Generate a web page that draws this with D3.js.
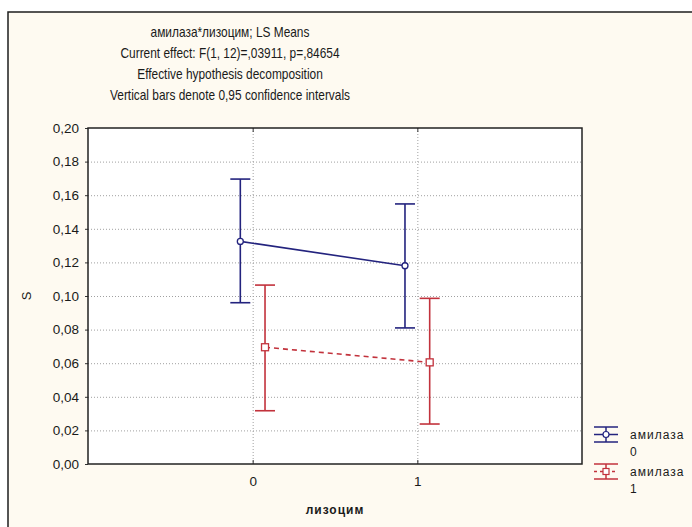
<!DOCTYPE html>
<html>
<head>
<meta charset="utf-8">
<script src="https://cdn.jsdelivr.net/npm/d3@7/dist/d3.min.js"></script>
<style>
  html, body { margin: 0; padding: 0; background: #ffffff; }
  svg { display: block; }
  text { font-family: "Liberation Sans", Arial, sans-serif; fill: #1a1a1a; }
</style>
</head>
<body>
<svg id="chart" width="692" height="527"></svg>
<script>
// LS means of S by лизоцим level, one series per амилаза level
const levels = [0, 1];
const seriesNames = ["амилаза", "амилаза"];
const seriesLevels = ["0", "1"];
const mean0 = [0.1325, 0.1180];
const lower0 = [0.0960, 0.0810];
const upper0 = [0.1696, 0.1548];
const mean1 = [0.0695, 0.0605];
const lower1 = [0.0317, 0.0238];
const upper1 = [0.1065, 0.0986];
const yTickValues = [0, 0.02, 0.04, 0.06, 0.08, 0.10, 0.12, 0.14, 0.16, 0.18, 0.20];
const titleLines = [
  "амилаза*лизоцим; LS Means",
  "Current effect: F(1, 12)=,03911, p=,84654",
  "Effective hypothesis decomposition",
  "Vertical bars denote 0,95 confidence intervals"
];

const svg = d3.select("#chart");
const W = 692, H = 527;
const plot = { left: 88, top: 128, right: 582, bottom: 464 };

// window panel
svg.append("rect")
  .attr("x", 8).attr("y", 12).attr("width", W + 20).attr("height", H + 20)
  .attr("fill", "#fefaf1").attr("stroke", "#1e1e1e").attr("stroke-width", 1.5);

const x = d3.scaleLinear().domain([-1, 2]).range([plot.left, plot.right]);
const y = d3.scaleLinear().domain([0, 0.20]).range([plot.bottom, plot.top]);

// plot background
svg.append("rect")
  .attr("x", plot.left).attr("y", plot.top)
  .attr("width", plot.right - plot.left).attr("height", plot.bottom - plot.top)
  .attr("fill", "#ffffff");

// grid
const grid = svg.append("g").attr("stroke", "#a0a0a0").attr("stroke-width", 1)
  .attr("stroke-dasharray", "1,2");
grid.selectAll("line.h").data(yTickValues.slice(1, -1)).join("line")
  .attr("x1", plot.left).attr("x2", plot.right)
  .attr("y1", d => y(d) + 0.5).attr("y2", d => y(d) + 0.5);
grid.selectAll("line.v").data(levels).join("line")
  .attr("x1", d => x(d) + 0.5).attr("x2", d => x(d) + 0.5)
  .attr("y1", plot.top).attr("y2", plot.bottom);

// titles (condensed face)
svg.append("g").selectAll("text").data(titleLines).join("text")
  .attr("transform", (d, i) => `translate(230,${37 + i * 21}) scale(0.85,1)`)
  .attr("text-anchor", "middle")
  .style("font-size", "14px")
  .text(d => d);

// y axis
const fmt = d => d3.format(".2f")(d).replace(".", ",");
const yAxis = svg.append("g").attr("transform", `translate(${plot.left},0)`)
  .call(d3.axisLeft(y).tickValues(yTickValues).tickSize(3).tickPadding(6).tickFormat(fmt));
yAxis.select(".domain").remove();
yAxis.selectAll("line").attr("stroke", "#333");
yAxis.selectAll("text").style("font-size", "13.5px").attr("fill", "#1a1a1a");

// x axis
const xAxis = svg.append("g").attr("transform", `translate(0,${plot.bottom})`)
  .call(d3.axisBottom(x).tickValues(levels).tickSize(-4).tickPadding(12).tickFormat(d3.format("d")));
xAxis.select(".domain").remove();
xAxis.selectAll("line").attr("stroke", "#333");
xAxis.selectAll("text").style("font-size", "13.5px").attr("fill", "#1a1a1a");

const xTop = svg.append("g").attr("transform", `translate(0,${plot.top})`)
  .call(d3.axisTop(x).tickValues(levels).tickSize(-4).tickFormat(""));
xTop.select(".domain").remove();
xTop.selectAll("line").attr("stroke", "#333");

// plot frame
svg.append("rect")
  .attr("x", plot.left).attr("y", plot.top)
  .attr("width", plot.right - plot.left).attr("height", plot.bottom - plot.top)
  .attr("fill", "none").attr("stroke", "#222").attr("stroke-width", 1.5);

// axis titles
svg.append("text")
  .attr("transform", `translate(31,${(plot.top + plot.bottom) / 2}) rotate(-90)`)
  .attr("text-anchor", "middle").style("font-size", "13px").text("S");
svg.append("text")
  .attr("x", (plot.left + plot.right) / 2).attr("y", 514)
  .attr("text-anchor", "middle").style("font-size", "12px").style("font-weight", "bold")
  .style("letter-spacing", "1px").text("лизоцим");

// series
const series = [
  { mean: mean0, lo: lower0, hi: upper0, color: "#23237e", shift: -0.075, dash: null, marker: "circle" },
  { mean: mean1, lo: lower1, hi: upper1, color: "#c2323c", shift: 0.075, dash: "5,4", marker: "square" }
];
const capHalf = 10;

series.forEach(s => {
  const pts = levels.map((lv, i) => ({ lv, m: s.mean[i], lo: s.lo[i], hi: s.hi[i] }));
  const g = svg.append("g");
  const line = d3.line().x(d => x(d.lv + s.shift)).y(d => y(d.m));
  g.append("path").datum(pts).attr("d", line)
    .attr("fill", "none").attr("stroke", s.color).attr("stroke-width", 1.6)
    .attr("stroke-dasharray", s.dash);
  const eb = g.selectAll("g.eb").data(pts).join("g").attr("stroke", s.color).attr("stroke-width", 1.6);
  eb.append("line").attr("x1", d => x(d.lv + s.shift)).attr("x2", d => x(d.lv + s.shift))
    .attr("y1", d => y(d.lo)).attr("y2", d => y(d.hi));
  eb.append("line").attr("x1", d => x(d.lv + s.shift) - capHalf).attr("x2", d => x(d.lv + s.shift) + capHalf)
    .attr("y1", d => y(d.hi)).attr("y2", d => y(d.hi));
  eb.append("line").attr("x1", d => x(d.lv + s.shift) - capHalf).attr("x2", d => x(d.lv + s.shift) + capHalf)
    .attr("y1", d => y(d.lo)).attr("y2", d => y(d.lo));
  if (s.marker === "circle") {
    eb.append("circle").attr("cx", d => x(d.lv + s.shift)).attr("cy", d => y(d.m)).attr("r", 3)
      .attr("fill", "#fff").attr("stroke-width", 1.3);
  } else {
    eb.append("rect").attr("x", d => x(d.lv + s.shift) - 3.5).attr("y", d => y(d.m) - 3.5)
      .attr("width", 7).attr("height", 7).attr("fill", "#fff").attr("stroke-width", 1.3);
  }
});

// legend
const legend = svg.append("g").attr("transform", `translate(${plot.right + 12},427)`);
series.forEach((s, i) => {
  const g = legend.append("g").attr("transform", `translate(0,${i * 37})`)
    .attr("stroke", s.color).attr("stroke-width", 1.5);
  g.append("line").attr("x1", 0).attr("x2", 24).attr("y1", 0).attr("y2", 0);
  g.append("line").attr("x1", 0).attr("x2", 24).attr("y1", 15).attr("y2", 15);
  g.append("line").attr("x1", 12).attr("x2", 12).attr("y1", 0).attr("y2", 15);
  g.append("line").attr("x1", 0).attr("x2", 24).attr("y1", 7.5).attr("y2", 7.5)
    .attr("stroke-dasharray", s.dash ? "3,3" : null);
  if (s.marker === "circle") {
    g.append("circle").attr("cx", 12).attr("cy", 7.5).attr("r", 3).attr("fill", "#fff").attr("stroke-width", 1.2);
  } else {
    g.append("rect").attr("x", 9).attr("y", 4.5).attr("width", 6).attr("height", 6).attr("fill", "#fff").attr("stroke-width", 1.2);
  }
  legend.append("text").attr("x", 36).attr("y", i * 37 + 12)
    .style("font-size", "12px").style("letter-spacing", "1px").text(seriesNames[i]);
  legend.append("text").attr("x", 36).attr("y", i * 37 + 29)
    .style("font-size", "12px").text(seriesLevels[i]);
});
</script>
</body>
</html>
